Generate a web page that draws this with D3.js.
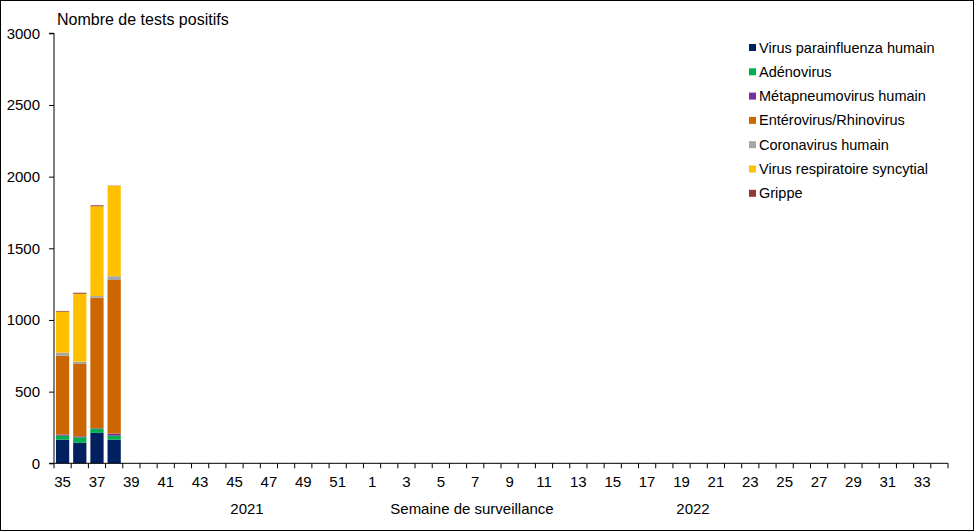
<!DOCTYPE html>
<html><head><meta charset="utf-8">
<script src="https://cdn.jsdelivr.net/npm/d3@7"></script>
<style>
html,body{margin:0;padding:0;background:#fff;}
svg{display:block;font-family:Arial,"Liberation Sans",sans-serif;}
</style></head>
<body><svg id="c" width="974" height="531"></svg>
<script>
// Weeks 35..52 of 2021 then 1..34 of 2022
const weeks = [35,36,37,38,39,40,41,42,43,44,45,46,47,48,49,50,51,52,
  1,2,3,4,5,6,7,8,9,10,11,12,13,14,15,16,17,18,19,20,21,22,23,24,25,26,27,28,29,30,31,32,33,34];
const seriesNames = ["Virus parainfluenza humain","Adénovirus","Métapneumovirus humain",
  "Entérovirus/Rhinovirus","Coronavirus humain","Virus respiratoire syncytial","Grippe"];
const seriesColors = ["#002060","#00B050","#7030A0","#CC6600","#A6A6A6","#FFC000","#953735"];
// values for weeks 35-38 (remaining weeks have no data)
const parainfluenza = [165,143,212,165];
const adenovirus    = [28,38,30,28];
const metapneumo    = [7,7,3,14];
const enteroRhino   = [551,505,910,1072];
const coronavirus   = [21,16,12,26];
const vrs           = [286,474,626,630];
const grippe        = [5,7,7,2];
const yTicks = [0,500,1000,1500,2000,2500,3000];

const seriesData = [parainfluenza,adenovirus,metapneumo,enteroRhino,coronavirus,vrs,grippe];
const rows = weeks.map((w,i)=>{
  const r={week:String(i)};
  seriesNames.forEach((s,k)=>{ r[s] = i < seriesData[k].length ? seriesData[k][i] : 0; });
  return r;
});

const svg = d3.select("#c");
const pLeft=54, pRight=948, pTop=33.3, pBottom=463.3;
const pInner=0.23;
const x = d3.scaleBand().domain(weeks.map((w,i)=>String(i))).range([pLeft,pRight]).paddingInner(pInner).paddingOuter(pInner/2);
const y = d3.scaleLinear().domain([0,3000]).range([pBottom,pTop]);

// outer frame
svg.append("rect").attr("x",0.5).attr("y",0.5).attr("width",973).attr("height",530)
  .attr("fill","none").attr("stroke","#000").attr("stroke-width",1);

// bars
const stack = d3.stack().keys(seriesNames)(rows);
svg.append("g").selectAll("g").data(stack).join("g")
  .attr("fill",(d,i)=>seriesColors[i])
  .selectAll("rect").data(d=>d.filter(p=>p[1]-p[0]>0)).join("rect")
  .attr("x",d=>x(d.data.week)).attr("width",x.bandwidth())
  .attr("y",d=>y(d[1])).attr("height",d=>y(d[0])-y(d[1]));

// y axis
const ya = svg.append("g").attr("transform",`translate(${pLeft},0)`)
  .call(d3.axisLeft(y).tickValues(yTicks).tickSize(5).tickPadding(9).tickFormat(d3.format("d")));
ya.select(".domain").attr("d",`M-5,${pTop}H0V${pBottom}`).attr("stroke","#000");
ya.selectAll("text").attr("font-size",15).attr("fill","#000").attr("font-family","Arial,'Liberation Sans',sans-serif");
ya.selectAll(".tick line").attr("stroke","#000");

// x axis
const step = x.step();
const xg = svg.append("g");
xg.append("line").attr("x1",pLeft-5).attr("x2",pRight).attr("y1",pBottom).attr("y2",pBottom).attr("stroke","#000");
const bounds = weeks.map((w,i)=>x(String(i)) - step*pInner/2).concat([x(String(weeks.length-1)) + x.bandwidth() + step*pInner/2]);
xg.selectAll("line.t").data(bounds).join("line").attr("class","t")
  .attr("x1",d=>d).attr("x2",d=>d).attr("y1",pBottom).attr("y2",pBottom+5).attr("stroke","#000");
xg.selectAll("text").data(weeks.map((w,i)=>({w,i})).filter(d=>d.i%2===0)).join("text")
  .attr("x",d=>x(String(d.i))+x.bandwidth()/2).attr("y",487)
  .attr("text-anchor","middle").attr("font-size",15).attr("fill","#000").text(d=>d.w);

// axis annotations
svg.append("text").attr("x",247).attr("y",514).attr("text-anchor","middle").attr("font-size",15).text("2021");
svg.append("text").attr("x",472).attr("y",514).attr("text-anchor","middle").attr("font-size",15).text("Semaine de surveillance");
svg.append("text").attr("x",693).attr("y",514).attr("text-anchor","middle").attr("font-size",15).text("2022");
svg.append("text").attr("x",57).attr("y",25).attr("font-size",16).text("Nombre de tests positifs");

// legend
const lg = svg.append("g");
const items = lg.selectAll("g").data(seriesNames).join("g")
  .attr("transform",(d,i)=>`translate(749,${47.5+i*24.3})`);
items.append("rect").attr("x",0).attr("y",-3.5).attr("width",7).attr("height",7).attr("fill",(d,i)=>seriesColors[i]);
items.append("text").attr("x",10).attr("y",5).attr("font-size",14.5).attr("fill","#000").text(d=>d);
</script></body></html>
